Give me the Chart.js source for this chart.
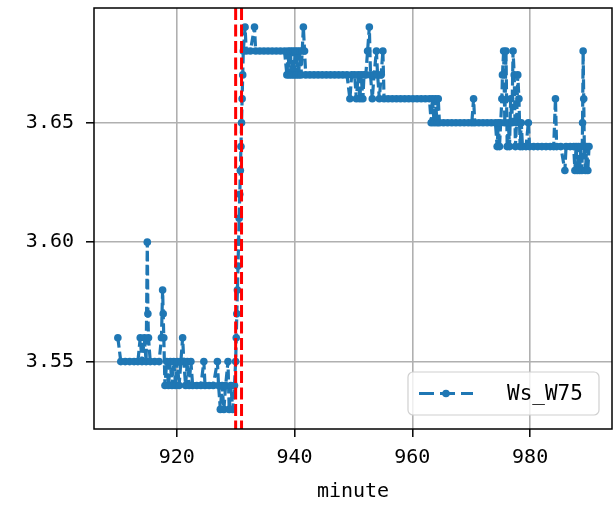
<!DOCTYPE html>
<html>
<head>
<meta charset="utf-8">
<script src="https://cdn.jsdelivr.net/npm/chart.js@4.4.0/dist/chart.umd.min.js"></script>
<style>
  html, body { margin: 0; padding: 0; background: #fff; }
</style>
</head>
<body>
<canvas id="lineChart" width="616" height="510"></canvas>
<script>
// minute of the sample and the Ws_W75 reading at that minute
const minutes = [
  910.0, 910.5, 911.25, 912.0, 912.75, 913.4, 913.8, 914.1, 914.5, 914.8,
  915.0, 915.1, 915.2, 915.5, 916.25, 917.0, 917.4, 917.6, 917.7, 917.8,
  918.0, 918.3, 918.6, 918.9, 919.2, 919.5, 919.8, 920.1, 920.4, 920.7,
  921.0, 921.2, 921.5, 921.8, 922.1, 922.4, 922.7, 923.4, 924.1, 924.6,
  924.8, 925.5, 926.2, 926.9, 927.1, 927.4, 927.7, 928.0, 928.3, 928.7,
  928.9, 929.2, 929.5, 929.8, 930.0, 930.1, 930.2, 930.3, 930.4, 930.5,
  930.6, 930.7, 930.8, 930.9, 931.0, 931.1, 931.2, 931.3, 931.6, 931.8,
  932.5, 933.2, 933.4, 934.1, 934.8, 935.5, 936.2, 936.9, 937.6, 938.3,
  938.7, 938.9, 939.1, 939.3, 939.5, 939.7, 939.9, 940.1, 940.3, 940.5,
  940.7, 940.9, 941.1, 941.3, 941.5, 941.7, 941.9, 942.6, 943.3, 944.0,
  944.7, 945.4, 946.1, 946.8, 947.5, 948.2, 948.9, 949.4, 949.7, 950.2,
  950.5, 950.8, 951.1, 951.3, 951.6, 951.8, 952.1, 952.4, 952.7, 952.9,
  953.2, 953.5, 953.9, 954.1, 954.4, 954.7, 955.0, 955.2, 955.9, 956.6,
  957.3, 958.0, 958.7, 959.4, 960.1, 960.8, 961.5, 962.2, 962.9, 963.2,
  963.4, 963.7, 963.9, 964.2, 964.4, 964.6, 965.3, 966.0, 966.7, 967.4,
  968.1, 968.8, 969.5, 970.1, 970.4, 970.6, 971.3, 972.0, 972.7, 973.4,
  974.1, 974.4, 974.6, 974.8, 975.0, 975.2, 975.3, 975.5, 975.7, 975.9,
  976.1, 976.3, 976.5, 976.7, 976.9, 977.1, 977.3, 977.5, 977.7, 977.9,
  978.1, 978.3, 978.5, 978.7, 979.3, 979.7, 979.9, 980.6, 981.3, 982.0,
  982.7, 983.4, 984.0, 984.3, 984.5, 985.2, 985.9, 986.1, 986.8, 987.4,
  987.6, 987.8, 988.0, 988.2, 988.4, 988.6, 988.8, 988.9, 989.0, 989.1,
  989.2, 989.4, 989.6, 989.8, 990.0
];
const wsW75 = [
  3.56, 3.55, 3.55, 3.55, 3.55, 3.55, 3.56, 3.55, 3.56, 3.55,
  3.60, 3.57, 3.56, 3.55, 3.55, 3.55, 3.56, 3.58, 3.57, 3.56,
  3.54, 3.55, 3.54, 3.55, 3.54, 3.55, 3.54, 3.55, 3.54, 3.55,
  3.56, 3.55, 3.54, 3.55, 3.54, 3.55, 3.54, 3.54, 3.54, 3.55,
  3.54, 3.54, 3.54, 3.55, 3.54, 3.53, 3.54, 3.53, 3.54, 3.55,
  3.53, 3.54, 3.53, 3.54, 3.55, 3.56, 3.57, 3.58, 3.59, 3.60,
  3.61, 3.62, 3.63, 3.64, 3.65, 3.66, 3.67, 3.68, 3.69, 3.68,
  3.68, 3.69, 3.68, 3.68, 3.68, 3.68, 3.68, 3.68, 3.68, 3.68,
  3.67, 3.68, 3.67, 3.68, 3.67, 3.68, 3.67, 3.68, 3.67, 3.68,
  3.67, 3.68, 3.67, 3.68, 3.69, 3.68, 3.67, 3.67, 3.67, 3.67,
  3.67, 3.67, 3.67, 3.67, 3.67, 3.67, 3.67, 3.66, 3.67, 3.67,
  3.66, 3.67, 3.66, 3.67, 3.66, 3.67, 3.67, 3.68, 3.69, 3.67,
  3.66, 3.67, 3.68, 3.67, 3.66, 3.67, 3.68, 3.66, 3.66, 3.66,
  3.66, 3.66, 3.66, 3.66, 3.66, 3.66, 3.66, 3.66, 3.66, 3.65,
  3.66, 3.65, 3.66, 3.65, 3.66, 3.65, 3.65, 3.65, 3.65, 3.65,
  3.65, 3.65, 3.65, 3.65, 3.66, 3.65, 3.65, 3.65, 3.65, 3.65,
  3.65, 3.64, 3.65, 3.64, 3.65, 3.66, 3.67, 3.68, 3.65, 3.68,
  3.64, 3.65, 3.64, 3.66, 3.65, 3.68, 3.67, 3.64, 3.65, 3.67,
  3.66, 3.64, 3.65, 3.64, 3.64, 3.65, 3.64, 3.64, 3.64, 3.64,
  3.64, 3.64, 3.64, 3.66, 3.64, 3.64, 3.63, 3.64, 3.64, 3.64,
  3.63, 3.64, 3.63, 3.64, 3.63, 3.64, 3.63, 3.65, 3.68, 3.66,
  3.64, 3.63, 3.64, 3.63, 3.64
];
const eventMinutes = [930, 931];
const xTicks = [920, 940, 960, 980];
const yTicks = [3.55, 3.60, 3.65];

const FONT = 'DejaVu Sans Mono';
const BLUE = '#1f77b4';

// red dashed vertical markers, drawn on top of the series
const eventLines = {
    id: 'eventLines',
    afterDatasetsDraw(chart) {
        const ctx = chart.ctx, area = chart.chartArea, xs = chart.scales.x;
        ctx.save();
        ctx.strokeStyle = '#ff0000';
        ctx.lineWidth = 3;
        ctx.setLineDash([12, 4.5]);
        eventMinutes.forEach(function (m) {
            const px = xs.getPixelForValue(m);
            ctx.beginPath();
            ctx.moveTo(px, area.top);
            ctx.lineTo(px, area.bottom);
            ctx.stroke();
        });
        ctx.restore();
    }
};

// black frame round the plot and a matplotlib-like legend box
const frameAndLegend = {
    id: 'frameAndLegend',
    afterDraw(chart) {
        const ctx = chart.ctx, area = chart.chartArea;
        ctx.save();
        ctx.strokeStyle = '#000';
        ctx.lineWidth = 1.5;
        ctx.setLineDash([]);
        ctx.strokeRect(area.left, area.top, area.right - area.left, area.bottom - area.top);

        const w = 191, h = 43;
        const bx = area.right - 13 - w, by = area.bottom - 14 - h;
        ctx.beginPath();
        ctx.roundRect(bx, by, w, h, 5);
        ctx.fillStyle = 'rgba(255,255,255,0.8)';
        ctx.fill();
        ctx.strokeStyle = '#d0d0d0';
        ctx.lineWidth = 1.2;
        ctx.stroke();

        const cy = by + h / 2;
        ctx.strokeStyle = BLUE;
        ctx.lineWidth = 3.2;
        ctx.setLineDash([15, 6]);
        ctx.beginPath();
        ctx.moveTo(bx + 11, cy);
        ctx.lineTo(bx + 65, cy);
        ctx.stroke();
        ctx.setLineDash([]);
        ctx.fillStyle = BLUE;
        ctx.beginPath();
        ctx.arc(bx + 38, cy, 3.8, 0, Math.PI * 2);
        ctx.fill();

        ctx.fillStyle = '#000';
        ctx.font = '21px "' + FONT + '"';
        ctx.textAlign = 'left';
        ctx.textBaseline = 'middle';
        ctx.fillText('Ws_W75', bx + 99, cy + 1);
        ctx.restore();
    }
};

function noEdgePadding(s) {
    s.paddingTop = 0;
    s.paddingBottom = 0;
    s.paddingLeft = 0;
    s.paddingRight = 0;
}

const ctx = document.getElementById('lineChart').getContext('2d');
const chart = new Chart(ctx, {
    type: 'line',
    data: {
        datasets: [{
            label: 'Ws_W75',
            data: minutes.map(function (m, i) { return { x: m, y: wsW75[i] }; }),
            borderColor: BLUE,
            backgroundColor: BLUE,
            borderWidth: 3.2,
            borderDash: [10, 4],
            borderJoinStyle: 'round',
            borderCapStyle: 'butt',
            pointRadius: 3.8,
            pointBorderWidth: 0,
            pointBackgroundColor: BLUE,
            tension: 0
        }]
    },
    options: {
        responsive: false,
        animation: false,
        devicePixelRatio: 1,
        layout: { padding: { top: 8, right: 4, left: 0, bottom: 0 } },
        plugins: {
            legend: { display: false },
            tooltip: { enabled: false }
        },
        scales: {
            x: {
                type: 'linear',
                min: 905.95,
                max: 993.9,
                afterFit: function (s) { s.height = 81; noEdgePadding(s); },
                afterBuildTicks: function (s) { s.ticks = xTicks.map(function (v) { return { value: v }; }); },
                grid: { color: '#b0b0b0', lineWidth: 1.6, tickLength: 8, tickColor: '#000', tickWidth: 1.5 },
                border: { display: false },
                ticks: {
                    color: '#000',
                    font: { family: FONT, size: 20 },
                    padding: 9,
                    maxRotation: 0,
                    callback: function (v) { return String(v); }
                },
                title: {
                    display: true,
                    text: 'minute',
                    color: '#000',
                    font: { family: FONT, size: 20 },
                    padding: { top: 0, bottom: 6 }
                }
            },
            y: {
                min: 3.5218,
                max: 3.698,
                afterFit: function (s) { s.width = 94; noEdgePadding(s); },
                afterBuildTicks: function (s) { s.ticks = yTicks.map(function (v) { return { value: v }; }); },
                grid: { color: '#b0b0b0', lineWidth: 1.6, tickLength: 8, tickColor: '#000', tickWidth: 1.5 },
                border: { display: false },
                ticks: {
                    color: '#000',
                    font: { family: FONT, size: 20 },
                    padding: 12,
                    callback: function (v) { return v.toFixed(2); }
                }
            }
        }
    },
    plugins: [eventLines, frameAndLegend]
});
</script>
</body>
</html>
